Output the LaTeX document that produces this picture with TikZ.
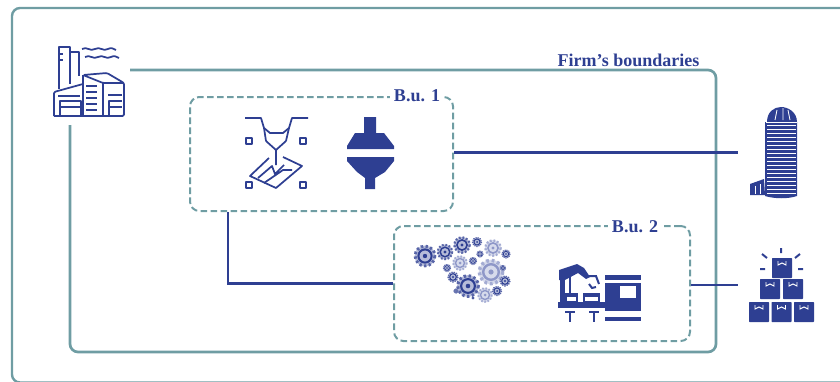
\documentclass[tikz,border=0pt]{standalone}
\usepackage{fontspec}
\setmainfont{Liberation Serif}
\usetikzlibrary{calc}
\definecolor{navy}{HTML}{2E3F92}
\definecolor{tealc}{HTML}{6F9DA3}
\definecolor{gearlight}{HTML}{8E97C8}
\tikzset{
  firmline/.style={draw=tealc,line width=2pt,rounded corners=6pt},
  linkline/.style={draw=navy,line width=1.8pt},
  bubox/.style={draw=tealc,line width=1.5pt,dash pattern=on 5pt off 2.5pt,rounded corners=7pt,inner sep=0pt},
  ghost/.style={inner sep=0pt,outer sep=0pt,minimum width=#1},
  lab/.style={text=navy,font=\bfseries\fontsize{13.5}{15}\selectfont,inner sep=1pt},
  ico/.style={draw=navy,line width=1.3pt,line join=round},
}
\newcommand{\gearmark}[4]{% x,y,r,colour
  \fill[#4!35] (#1,#2) circle[radius=#3*0.95];
  \draw[#4!80,line width=#3*0.2pt,dash pattern=on #3*0.16pt off #3*0.16pt] (#1,#2) circle[radius=#3*0.9];
  \draw[#4,line width=#3*0.14pt] (#1,#2) circle[radius=#3*0.6];
  \fill[#4] (#1,#2) circle[radius=#3*0.2];
}
\newcommand{\boxmark}[2]{% left x, top y
  \fill[navy,rounded corners=0.5pt] (#1,#2) rectangle ++(20,20);
  \draw[white,line width=0.7pt] (#1+6,#2+3) -- ++(0,4) -- ++(4,-2) -- ++(4,2) -- ++(0,-4);
}
\begin{document}
\begin{tikzpicture}[x=0.75pt,y=-0.75pt]
\useasboundingbox (0,0) rectangle (840,382);
% outer frame
\draw[draw=tealc,line width=1.8pt,rounded corners=6pt] (12,8) -- (850,8) -- (850,382.5) -- (12,382.5) -- cycle;
% nodes
\node[ghost=80*0.75pt,minimum height=81*0.75pt] (factory) at (90,84.5) {};
\node[ghost=646*0.75pt,minimum height=282*0.75pt] (firm) at (393,211) {};
\node[bubox,minimum width=263*0.75pt,minimum height=114*0.75pt] (bu1) at (321.5,154) {};
\node[bubox,minimum width=296*0.75pt,minimum height=115*0.75pt] (bu2) at (542,283.5) {};
\node[ghost=60*0.75pt,minimum height=91*0.75pt] (building) at (768,152.5) {};
\node[ghost=77*0.75pt,minimum height=74*0.75pt] (boxes) at (776.5,285) {};
% connectors
\draw[firmline] (factory.east |- firm.north) -- (firm.north east) -- (firm.south east) -- (firm.south west) -- (factory.south -| firm.south west);
\draw[linkline] (bu1.east |- building.west) -- (building.west);
\draw[linkline] ($(bu1.south west)+(39,0)$) |- (bu2.west);
\draw[linkline] (bu2.east |- boxes.west) -- (boxes.west);
% labels
\node[lab] (firmlabel) at (628.5,60) {Firm's boundaries};
\node[lab,fill=white,inner xsep=3pt] (bu1label) at (417,95.5) {B.u. 1};
\node[lab,fill=white,inner xsep=3pt] (bu2label) at (635,226.5) {B.u. 2};
% factory icon
\begin{scope}[ico]
  \draw[rounded corners=1pt] (54,116) -- (54,92) -- (83,84) (54,116) -- (124,116) -- (124,83) -- (107,73) -- (83,75) -- (103,83) -- (124,83);
  \draw (83,75) -- (83,116) (103,83) -- (103,116);
  \draw (59,89) -- (59,47) -- (70,47) -- (70,84) (70,52) -- (79,52) -- (79,76);
  \draw (59,54) -- (63,54) (59,60) -- (63,60);
  \draw (60,116) -- (60,101) -- (81,101) -- (81,116) (60,107) -- (81,107);
  \draw (109,116) -- (109,101) -- (122,101) (109,107) -- (122,107);
  \draw (58,96) -- (80,96) (108,95) -- (122,95);
  \draw (86,86) -- (97,86) (86,92) -- (97,92) (86,98) -- (97,98) (86,104) -- (97,104) (86,110) -- (97,110);
  \draw (82,49) .. controls (87,46) and (90,52) .. (95,49) .. controls (100,46) and (103,52) .. (108,49) .. controls (111,47) and (114,49) .. (116,50);
  \draw (85,57) .. controls (90,54) and (93,60) .. (98,57) .. controls (103,54) and (106,60) .. (111,57) .. controls (114,55) and (117,57) .. (119,58);
\end{scope}
% laser icon
\begin{scope}[ico]
  \draw (245,118) -- (261,118) -- (264,128) -- (270,133) -- (283,133) -- (289,128) -- (292,118) -- (308,118);
  \draw (266,141) -- (276,150) -- (286,141) (264,128) -- (266,141) (289,128) -- (286,141) (276,150) -- (276,165);
  \draw (269,158) -- (250,176) -- (276,188) -- (302,166) -- (283,157);
  \draw (258,178) -- (272,166) -- (275,174) -- (284,165) (264,183) -- (283,170) -- (292,170);
  \foreach \px/\py in {249/141,303/141,249/185,303/185}{
    \draw (\px-3,\py-3) rectangle (\px+3,\py+3);
  }
\end{scope}
% press icon
\fill[navy] (364,117) -- (376,117) -- (376,133) -- (384,133) -- (394,146) -- (394,149) -- (347,149) -- (347,146) -- (355,133) -- (364,133) -- cycle;
\fill[navy] (347,157) -- (394,157) -- (394,161) -- (385,172) -- (375,178) -- (375,189) -- (365,189) -- (365,178) -- (357,172) -- (347,161) -- cycle;
% gears
\gearmark{425}{256}{11}{navy}
\gearmark{445}{252}{8}{navy}
\gearmark{462}{245}{8.5}{navy}
\gearmark{477}{242}{5}{navy}
\gearmark{493}{248}{8.5}{gearlight}
\gearmark{506}{254}{4.5}{navy}
\gearmark{460}{263}{7.5}{gearlight}
\gearmark{480}{254}{3.5}{navy}
\gearmark{473}{261}{4}{navy}
\gearmark{491}{272}{13}{gearlight}
\gearmark{468}{286}{11.5}{navy}
\gearmark{485}{295}{7.5}{gearlight}
\gearmark{497}{291}{5}{navy}
\gearmark{505}{281}{5.5}{navy}
\gearmark{453}{277}{5.5}{navy}
\gearmark{447}{268}{4}{navy}
\gearmark{456}{291}{2.5}{navy}
\gearmark{503}{268}{3}{navy}
\gearmark{473}{298}{1.5}{navy}
% robot line icon
\fill[navy] (558,302) rectangle (607,308);
\fill[navy] (605,275) rectangle (641,280);
\fill[navy] (605,283) rectangle (641,311);
\fill[white] (620,286) rectangle (636,298);
\fill[navy] (605,317) rectangle (641,321);
\fill[navy] (560,272) rectangle (565,302);
\draw[navy,line width=1pt] (570,275) -- (570,293);
\fill[navy] (559,280) -- (559,270) -- (577,264) -- (584,268) -- (590,277) -- (586,279) -- (578,273) -- (565,280) -- cycle;
\draw[navy,line width=1.5pt] (586,276) -- (596,276) -- (599,284) (589,284) -- (592,288) -- (596,287);
\fill[navy] (565,293) rectangle (578,296);
\fill[navy] (583,293) rectangle (600,296);
\draw[navy,line width=1pt] (566,296) rectangle (577,302) (584,296) rectangle (599,302);
\draw[navy,line width=1.4pt] (565,312) -- (575,312) (570,312) -- (570,322);
\draw[navy,line width=1.4pt] (589,312) -- (599,312) (594,312) -- (594,322);
% building icon
\fill[navy] (765,122) -- (765,196) .. controls (775,199) and (788,199) .. (797,196) -- (797,122) -- cycle;
\fill[navy] (767,122) .. controls (767,112) and (774,107) .. (781,107) .. controls (788,107) and (797,112) .. (797,122) -- cycle;
\foreach \yy in {125,129,133,137,141,145,149,153,157,161,165,169,173,177,181,185,189,193}{
  \draw[white,line width=0.45pt] (767,\yy) -- (796,\yy);
}
\draw[white,line width=0.6pt] (775,120) -- (777,110) (783,120) -- (783,108) (790,120) -- (788,110);
\draw[white,line width=0.6pt] (766,122) -- (797,122);
\fill[navy] (750,195) -- (750,184) -- (764,179) -- (765,195) -- cycle;
\draw[white,line width=0.7pt] (755,186) -- (755,194) (760,184) -- (760,194);
% boxes icon
\boxmark{772}{258}
\boxmark{760}{279}
\boxmark{783}{279}
\boxmark{749}{302}
\boxmark{771.5}{302}
\boxmark{794}{302}
\draw[navy,line width=1.5pt] (781,248) -- (781,253) (762,254) -- (767,258) (800,254) -- (795,258) (760,269) -- (765,269) (798,269) -- (803,269);
\end{tikzpicture}
\end{document}
